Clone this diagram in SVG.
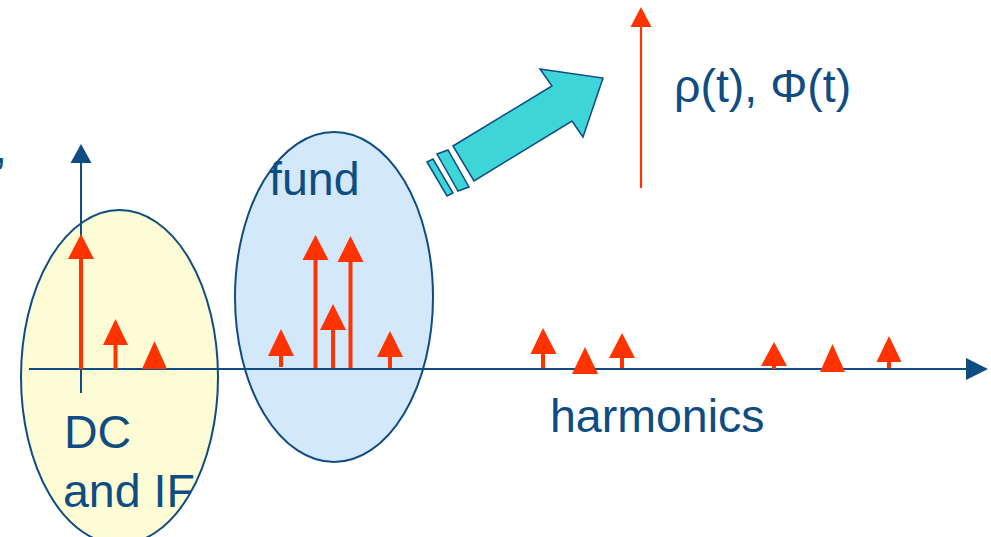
<svg xmlns="http://www.w3.org/2000/svg" width="991" height="537" viewBox="0 0 991 537">
<style>
.t{font-family:"Liberation Sans",Arial,sans-serif;fill:#0F4C81;font-size:46.5px}
.ax{stroke:#0F4C81;stroke-width:2;fill:none}
.sh{stroke:#FF3300;stroke-width:4}
.hd{fill:#FF3300}
.ell{stroke:#0F4C81;stroke-width:2}
.cy{fill:#3DD5D8;stroke:#0F4C81;stroke-width:1.5;stroke-linejoin:miter}
</style>
<defs>
<clipPath id="cpY"><ellipse cx="119.5" cy="377" rx="98.5" ry="167"/></clipPath>
</defs>
<rect width="991" height="537" fill="#FFFFFF"/>
<text class="t" x="-6" y="163">,</text>
<g id="dc-if">
<ellipse class="ell" cx="119.5" cy="377" rx="98.5" ry="167" fill="#FEFCD4"/>
</g>
<g id="fund">
<ellipse class="ell" cx="334" cy="297" rx="99" ry="165" fill="#D3E8FB"/>
</g>
<g id="axes">
<line class="ax" x1="29" y1="369" x2="968" y2="369"/>
<polygon points="966,358 988,369 966,380" fill="#0F4C81"/>
<line class="ax" x1="81" y1="393" x2="81" y2="160"/>
<polygon points="81,144 70.5,163 91.5,163" fill="#0F4C81"/>
</g>
<g id="spikes">
<line class="sh" x1="81" y1="369" x2="81" y2="255"/><polygon class="hd" points="81,234 68,259 94,259"/>
<line class="sh" x1="115.5" y1="369" x2="115.5" y2="340"/><polygon class="hd" points="115.5,319 103,345 128,345"/>
<polygon class="hd" points="154.5,341 142,369 167,369"/>
<line class="sh" x1="281" y1="367" x2="281" y2="350"/><polygon class="hd" points="281,329 268,356 294,356"/>
<line class="sh" x1="315.5" y1="368" x2="315.5" y2="255"/><polygon class="hd" points="315.5,235 302.5,260 328.5,260"/>
<line class="sh" x1="333" y1="368" x2="333" y2="325"/><polygon class="hd" points="333,304 320,330 346,330"/>
<line class="sh" x1="350.5" y1="368" x2="350.5" y2="257"/><polygon class="hd" points="350.5,236 337.5,262 363.5,262"/>
<line class="sh" x1="390" y1="368" x2="390" y2="352"/><polygon class="hd" points="390,331 377,357 403,357"/>
<line class="sh" x1="543" y1="368" x2="543" y2="350"/><polygon class="hd" points="543,328 530.5,354 556.5,354"/>
<polygon class="hd" points="585,347 572,374 598,374"/>
<line class="sh" x1="622" y1="368" x2="622" y2="353"/><polygon class="hd" points="622,333 609,358 635,358"/>
<line class="sh" x1="774" y1="369" x2="774" y2="362"/><polygon class="hd" points="774,342 761,366 787,366"/>
<polygon class="hd" points="832.5,344 820,372 845,372"/>
<line class="sh" x1="889" y1="368" x2="889" y2="357"/><polygon class="hd" points="889,336 876.5,362 901.5,362"/>
</g>
<g id="output">
<line x1="641" y1="188" x2="641" y2="24" stroke="#FF3300" stroke-width="2.2"/>
<polygon class="hd" points="641,7 630.5,27 651.5,27"/>
<text class="t" x="674" y="102" font-size="46">ρ(t), Φ(t)</text>
</g>
<g id="big-arrow">
<polygon class="cy" points="453,146 552,86 540,69 603,78 583,137 572,121 474,181"/>
<polygon class="cy" points="437,154 448,150 469,187 458,191"/>
<polygon class="cy" points="427,162 433,159 453,193 447,196"/>
</g>
<g id="labels">
<text class="t" x="269" y="195">fund</text>
<text class="t" x="64" y="448">DC</text>
<text class="t" x="63" y="507" clip-path="url(#cpY)">and IF</text>
<text class="t" x="550" y="432">harmonics</text>
</g>
</svg>
